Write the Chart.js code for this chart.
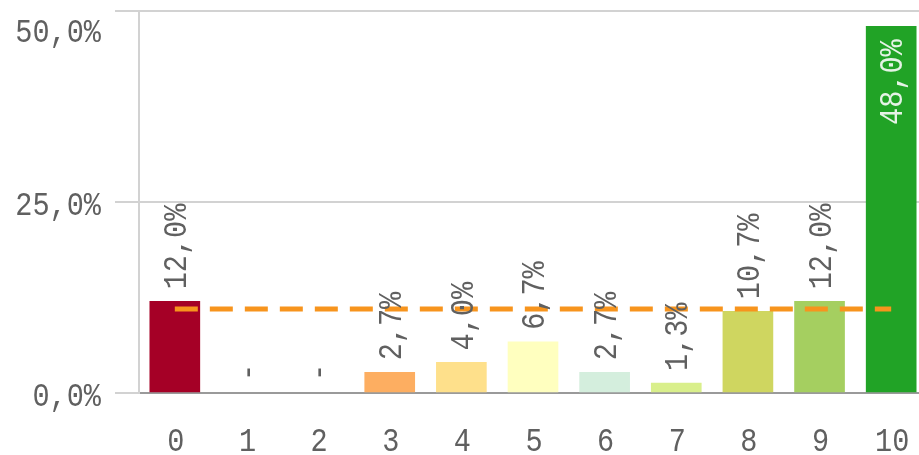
<!DOCTYPE html>
<html>
<head>
<meta charset="utf-8">
<script src="https://cdn.jsdelivr.net/npm/chart.js@4/dist/chart.umd.min.js"></script>
<style>
  html, body { margin: 0; padding: 0; background: #fff; overflow: hidden; }
  #wrap { width: 927px; height: 455px; }
</style>
</head>
<body>
<div id="wrap"><canvas id="chart" width="927" height="455"></canvas></div>
<script>
// Score distribution (0–10) in percent of answers
const categories = ['0', '1', '2', '3', '4', '5', '6', '7', '8', '9', '10'];
const shares = [12.0, 0, 0, 2.7, 4.0, 6.7, 2.7, 1.3, 10.7, 12.0, 48.0];
const averageLine = [11.0, 11.0, 11.0, 11.0, 11.0, 11.0, 11.0, 11.0, 11.0, 11.0, 11.0];
const yTicks = [0, 25, 50];

const barColors = ['#a50026', '#d73027', '#f46d43', '#fdae61', '#fee08b', '#ffffbf',
                   '#d4eedd', '#d9ef8b', '#cfd660', '#a5cf60', '#21a326'];

const FONT_FAMILY = "'Liberation Mono', 'DejaVu Sans Mono', monospace";
const FONT_SIZE = 34;
const SQUEEZE = 0.84;             // narrow the monospace glyphs horizontally
const CAP = FONT_SIZE * 0.66;     // approximate cap height of the face
const TEXT_COLOR = '#606060';

const fmtPct = v => v.toFixed(1).replace('.', ',') + '%';

// Draw a squeezed text run; angle in radians, align along the run
function drawText(ctx, text, x, y, align, angle, color) {
  ctx.save();
  ctx.translate(x, y);
  if (angle) ctx.rotate(angle);
  ctx.scale(SQUEEZE, 1);
  ctx.font = FONT_SIZE + 'px ' + FONT_FAMILY;
  ctx.fillStyle = color;
  ctx.textAlign = align;
  ctx.textBaseline = 'alphabetic';
  ctx.fillText(text, 0, CAP / 2);
  ctx.restore();
}

const textPlugin = {
  id: 'axisAndValueText',
  afterDraw(chart) {
    const ctx = chart.ctx;
    const xs = chart.scales.x;
    const ys = chart.scales.y;

    // y tick labels
    yTicks.forEach(v => {
      const py = ys.getPixelForValue(v);
      const cy = Math.max(py + 2, 30.5);
      drawText(ctx, fmtPct(v), 101, cy, 'right', 0, TEXT_COLOR);
    });

    // x tick labels
    categories.forEach((c, i) => {
      drawText(ctx, c, xs.getPixelForValue(i) + 1, 440, 'center', 0, TEXT_COLOR);
    });

    // value labels on the bars, rotated to read bottom-to-top
    const meta = chart.getDatasetMeta(1);
    meta.data.forEach((bar, i) => {
      const v = shares[i];
      const label = v === 0 ? '-' : fmtPct(v);
      if (v > 40) {
        drawText(ctx, label, bar.x, bar.y + 13, 'right', -Math.PI / 2, 'rgba(240,248,240,0.95)');
      } else {
        drawText(ctx, label, bar.x, bar.y - 12, 'left', -Math.PI / 2, TEXT_COLOR);
      }
    });
  }
};

new Chart(document.getElementById('chart'), {
  data: {
    labels: categories,
    datasets: [
      {
        type: 'line',
        data: averageLine,
        borderColor: '#f7941d',
        borderWidth: 5,
        borderDash: [23, 12],
        pointRadius: 0,
        fill: false,
        order: 0
      },
      {
        type: 'bar',
        data: shares,
        backgroundColor: ctx => (shares[ctx.dataIndex] === 0 ? 'rgba(0,0,0,0)' : barColors[ctx.dataIndex]),
        borderWidth: 0,
        barThickness: 50,
        order: 1
      }
    ]
  },
  options: {
    responsive: false,
    animation: false,
    devicePixelRatio: 1,
    layout: { padding: { top: 11, right: 0, bottom: 0, left: 0 } },
    plugins: { legend: { display: false }, tooltip: { enabled: false } },
    scales: {
      x: {
        offset: true,
        grid: { display: false },
        border: { display: true, color: '#9a9a9a', width: 2 },
        ticks: { display: false },
        afterFit(scale) { scale.height = 62; }
      },
      y: {
        min: 0,
        max: 50,
        afterBuildTicks(scale) { scale.ticks = yTicks.map(v => ({ value: v })); },
        grid: { color: '#d2d2d2', lineWidth: 2, drawTicks: true, tickLength: 24 },
        border: { display: true, color: '#d2d2d2', width: 2 },
        ticks: { display: false },
        afterFit(scale) { scale.width = 139; }
      }
    }
  },
  plugins: [textPlugin]
});
</script>
</body>
</html>
